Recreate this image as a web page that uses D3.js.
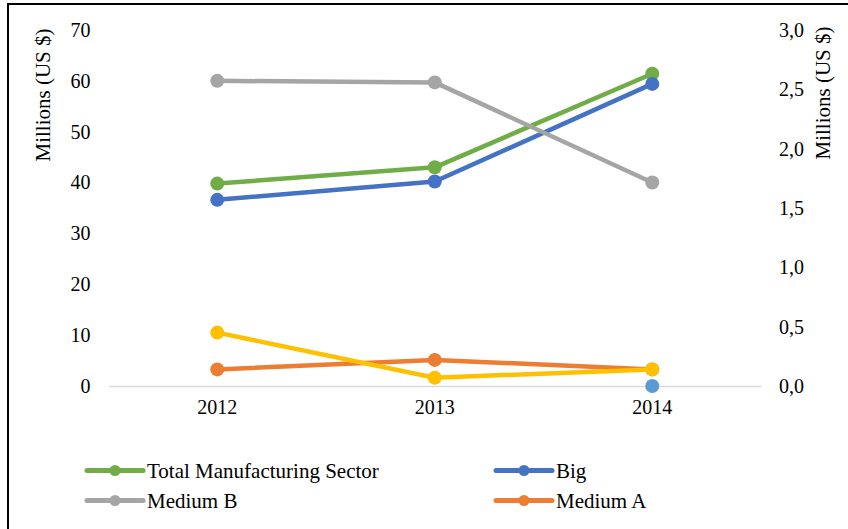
<!DOCTYPE html>
<html>
<head>
<meta charset="utf-8">
<script src="https://cdn.jsdelivr.net/npm/d3@7"></script>
<style>
  html, body { margin: 0; padding: 0; background: #fff; }
  svg { display: block; }
  svg text { font-family: "Liberation Serif", "Times New Roman", Tinos, "DejaVu Serif", serif !important; }
</style>
</head>
<body>
<svg id="chart" width="848" height="529"></svg>
<script>
// Years on the category axis
const years = ["2012", "2013", "2014"];

// Primary axis series (millions US $)
const totalManufacturing = [39.8, 43.0, 61.4];
const big = [36.6, 40.2, 59.4];
const mediumB = [60.0, 59.7, 40.0];

// Secondary axis series (millions US $)
const mediumA = [0.14, 0.22, 0.14];
const small = [0.45, 0.07, 0.14];
const micro = [null, null, 0.0];

// Tick values for both value axes
const leftTicks = [0, 10, 20, 30, 40, 50, 60, 70];
const rightTicks = [0, 0.5, 1.0, 1.5, 2.0, 2.5, 3.0];

const series = [
  { name: "Total Manufacturing Sector", values: totalManufacturing, color: "#70AD47", axis: "left", legend: true },
  { name: "Big", values: big, color: "#4472C4", axis: "left", legend: true },
  { name: "Medium B", values: mediumB, color: "#A5A5A5", axis: "left", legend: true },
  { name: "Medium A", values: mediumA, color: "#ED7D31", axis: "right", legend: true },
  { name: "Small", values: small, color: "#FFC000", axis: "right", legend: false },
  { name: "Micro", values: micro, color: "#5B9BD5", axis: "right", legend: false }
];

const svg = d3.select("#chart");

// outer chart frame
svg.append("rect")
  .attr("x", 8).attr("y", 4)
  .attr("width", 900).attr("height", 600)
  .attr("fill", "#fff").attr("stroke", "#000").attr("stroke-width", 2);

const plot = { left: 108.5, right: 761, top: 30, bottom: 386 };

const x = d3.scaleBand().domain(years).range([plot.left, plot.right]);
const yL = d3.scaleLinear().domain([0, 70]).range([plot.bottom, plot.top]);
const yR = d3.scaleLinear().domain([0, 3]).range([plot.bottom, plot.top]);

const fmtR = v => d3.format(".1f")(v).replace(".", ",");

// left axis labels
const leftAxis = svg.append("g")
  .attr("transform", `translate(${plot.left - 18},0)`)
  .call(d3.axisLeft(yL).tickValues(leftTicks).tickSize(0).tickPadding(0).tickFormat(d3.format("d")));
leftAxis.select(".domain").remove();
leftAxis.selectAll("text").attr("font-size", 20).attr("fill", "#000");

// right axis labels
const rightAxis = svg.append("g")
  .attr("transform", `translate(${plot.right + 18},0)`)
  .call(d3.axisRight(yR).tickValues(rightTicks).tickSize(0).tickPadding(0).tickFormat(fmtR));
rightAxis.select(".domain").remove();
rightAxis.selectAll("text").attr("font-size", 20).attr("fill", "#000");

// category axis
const bottomAxis = svg.append("g")
  .attr("transform", `translate(0,${plot.bottom})`)
  .call(d3.axisBottom(x).tickSize(0).tickPadding(14));
bottomAxis.select(".domain").attr("stroke", "#D9D9D9").attr("stroke-width", 1.5);
bottomAxis.selectAll("text").attr("font-size", 20).attr("fill", "#000");

// axis titles
svg.append("text")
  .attr("transform", "translate(50,95) rotate(-90)")
  .attr("text-anchor", "middle")
  .attr("font-size", 21).attr("fill", "#000")
  .text("Millions (US $)");
svg.append("text")
  .attr("transform", "translate(830,93) rotate(-90)")
  .attr("text-anchor", "middle")
  .attr("font-size", 21).attr("fill", "#000")
  .text("Millions (US $)");

// series lines and markers
const cx = d => x(d) + x.bandwidth() / 2;
series.forEach(s => {
  const yS = s.axis === "left" ? yL : yR;
  const pts = years.map((yr, i) => ({ yr, v: s.values[i] })).filter(p => p.v !== null);
  const line = d3.line().x(p => cx(p.yr)).y(p => yS(p.v));
  const g = svg.append("g");
  if (pts.length > 1) {
    g.append("path").datum(pts)
      .attr("d", line)
      .attr("fill", "none").attr("stroke", s.color)
      .attr("stroke-width", 4.5).attr("stroke-linejoin", "round");
  }
  g.selectAll("circle").data(pts).join("circle")
    .attr("cx", p => cx(p.yr)).attr("cy", p => yS(p.v))
    .attr("r", 7).attr("fill", s.color);
});

// legend
const legendItems = series.filter(s => s.legend);
const legendPos = [
  { x: 87, y: 470.5 }, { x: 496, y: 470.5 },
  { x: 87, y: 500.5 }, { x: 496, y: 500.5 }
];
const legendOrder = ["Total Manufacturing Sector", "Big", "Medium B", "Medium A"];
legendOrder.forEach((name, i) => {
  const s = legendItems.find(d => d.name === name);
  const p = legendPos[i];
  const g = svg.append("g").attr("transform", `translate(${p.x},${p.y})`);
  g.append("line").attr("x1", 0).attr("x2", 56).attr("y1", 0).attr("y2", 0)
    .attr("stroke", s.color).attr("stroke-width", 5).attr("stroke-linecap", "round");
  g.append("circle").attr("cx", 28).attr("cy", 0).attr("r", 5.5).attr("fill", s.color);
  g.append("text").attr("x", 60).attr("y", 0).attr("dy", "0.35em")
    .attr("font-size", 21).attr("fill", "#000").text(s.name);
});
</script>
</body>
</html>
